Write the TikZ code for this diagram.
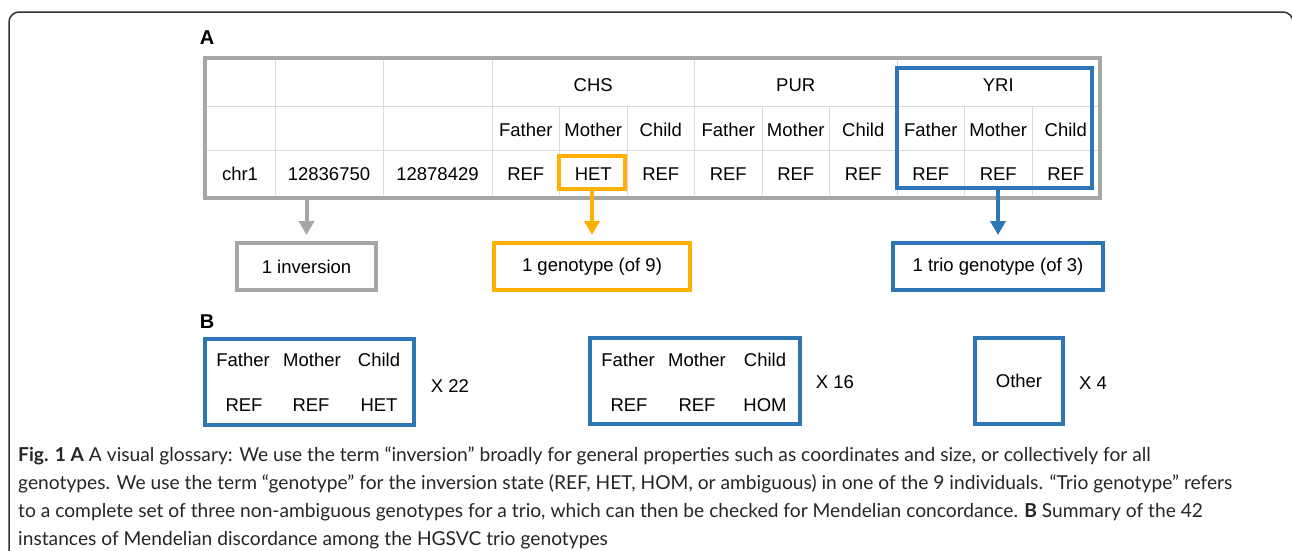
\documentclass[tikz,border=0pt]{standalone}
\usepackage{fontspec}
\setmainfont{Liberation Sans}
\newfontfamily\capfont{Lato}
\usetikzlibrary{arrows.meta}
\definecolor{tgrey}{RGB}{166,166,166}
\definecolor{lgrey}{RGB}{217,217,217}
\definecolor{tblue}{RGB}{46,117,182}
\definecolor{torange}{RGB}{255,176,0}
\definecolor{frame}{RGB}{50,50,50}
\begin{document}
\begin{tikzpicture}[x=1pt,y=-1pt,
  cell/.style={font=\fontsize{18.5}{20}\selectfont, inner sep=0pt, anchor=center},
  thickbox/.style={draw=#1, line width=4pt, fill=none, inner sep=0pt},
  lbl/.style={font=\fontsize{18.5}{20}\selectfont},
  panel/.style={font=\fontsize{20}{22}\selectfont\bfseries, inner sep=0pt},
  grid/.style={draw=lgrey, line width=1pt},
  arr/.style={draw=#1, line width=4pt, -{Triangle[length=14pt,width=15pt]}},
  capline/.style={font=\capfont\fontsize{19.2}{21}\selectfont, anchor=west, inner sep=0pt, text=black!85}
]
\useasboundingbox (0,0) rectangle (1292,550);
\fill[white] (0,0) rectangle (1292,550);
% outer frame
\draw[frame, line width=1.5pt, rounded corners=10pt] (9,560) -- (9,12) -- (1293,12) -- (1293,40);

% panel labels
\node[panel] (labA) at (207,38) {A};
\node[panel] (labB) at (207,322) {B};

% table grid
\draw[grid] (205,106) -- (1100,106);
\draw[grid] (205,150) -- (1100,150);
\foreach \x in {275,383,492,694.5,897} \draw[grid] (\x,60) -- (\x,195);
\foreach \x in {559.5,627,762,829.5,964.5,1032} \draw[grid] (\x,106) -- (\x,195);
\node[thickbox=tgrey, minimum width=895pt, minimum height=140pt] (tbl) at (652.5,127.5) {};

% header row
\node[cell] (chs) at (593.25,85.5) {CHS};
\node[cell] (pur) at (795.75,85.5) {PUR};
\node[cell] (yri) at (998.25,85.5) {YRI};
% second row
\foreach \x/\t [count=\i] in {525.75/Father,593.25/Mother,660.75/Child,728.25/Father,795.75/Mother,863.25/Child,930.75/Father,998.25/Mother,1065.75/Child}
  \node[cell] (r2c\i) at (\x,130) {\t};
% third row
\node[cell] (chr) at (240,174) {chr1};
\node[cell] (start) at (329,174) {12836750};
\node[cell] (stop) at (437.5,174) {12878429};
\foreach \x/\t [count=\i] in {525.75/REF,593.25/HET,660.75/REF,728.25/REF,795.75/REF,863.25/REF,930.75/REF,998.25/REF,1065.75/REF}
  \node[cell] (r3c\i) at (\x,174) {\t};

% highlight boxes
\node[thickbox=torange, minimum width=66pt, minimum height=33pt] (hetbox) at (592,172.5) {};
\node[thickbox=tblue, minimum width=195pt, minimum height=120pt] (yribox) at (994.5,128) {};

% result boxes
\node[thickbox=tgrey, minimum width=139pt, minimum height=47pt, lbl] (inv) at (306.5,266.5) {1 inversion};
\node[thickbox=torange, minimum width=196pt, minimum height=47pt, lbl] (gen) at (592,266.5) {1 genotype (of 9)};
\node[thickbox=tblue, minimum width=210pt, minimum height=47pt, lbl] (trio) at (998,266.5) {1 trio genotype (of 3)};

% arrows
\draw[arr=tgrey] (inv.north |- tbl.south) -- ([yshift=6pt]inv.north);
\draw[arr=torange] (hetbox.south) -- ([yshift=6pt]gen.north);
\draw[arr=tblue] (trio.north |- yribox.south) -- ([yshift=6pt]trio.north);

% panel B
\node[thickbox=tblue, minimum width=209pt, minimum height=86pt] (b1) at (309.5,382) {};
\node[cell] (b1f) at (243,360) {Father};
\node[cell] (b1m) at (312,360) {Mother};
\node[cell] (b1c) at (379,360) {Child};
\node[cell] (b1r1) at (244,405) {REF};
\node[cell] (b1r2) at (311,405) {REF};
\node[cell] (b1r3) at (379,405) {HET};
\node[cell] (x22) at (450,386) {X 22};

\node[thickbox=tblue, minimum width=210pt, minimum height=86pt] (b2) at (695,381) {};
\node[cell] (b2f) at (628,360) {Father};
\node[cell] (b2m) at (697,360) {Mother};
\node[cell] (b2c) at (765,360) {Child};
\node[cell] (b2r1) at (629,405) {REF};
\node[cell] (b2r2) at (697,405) {REF};
\node[cell] (b2r3) at (765,405) {HOM};
\node[cell] (x16) at (835,382) {X 16};

\node[thickbox=tblue, minimum width=88pt, minimum height=86pt, lbl] (b3) at (1019,381) {Other};
\node[cell] (x4) at (1093,383) {X 4};

% caption
\node[capline] (cap1) at (18,456) {\textbf{Fig. 1 A} A visual glossary: We use the term “inversion” broadly for general properties such as coordinates and size, or collectively for all};
\node[capline] (cap2) at (18,484) {genotypes. We use the term “genotype” for the inversion state (REF, HET, HOM, or ambiguous) in one of the 9 individuals. “Trio genotype” refers};
\node[capline] (cap3) at (18,512) {to a complete set of three non-ambiguous genotypes for a trio, which can then be checked for Mendelian concordance. \textbf{B} Summary of the 42};
\node[capline] (cap4) at (18,540) {instances of Mendelian discordance among the HGSVC trio genotypes};
\end{tikzpicture}
\end{document}
